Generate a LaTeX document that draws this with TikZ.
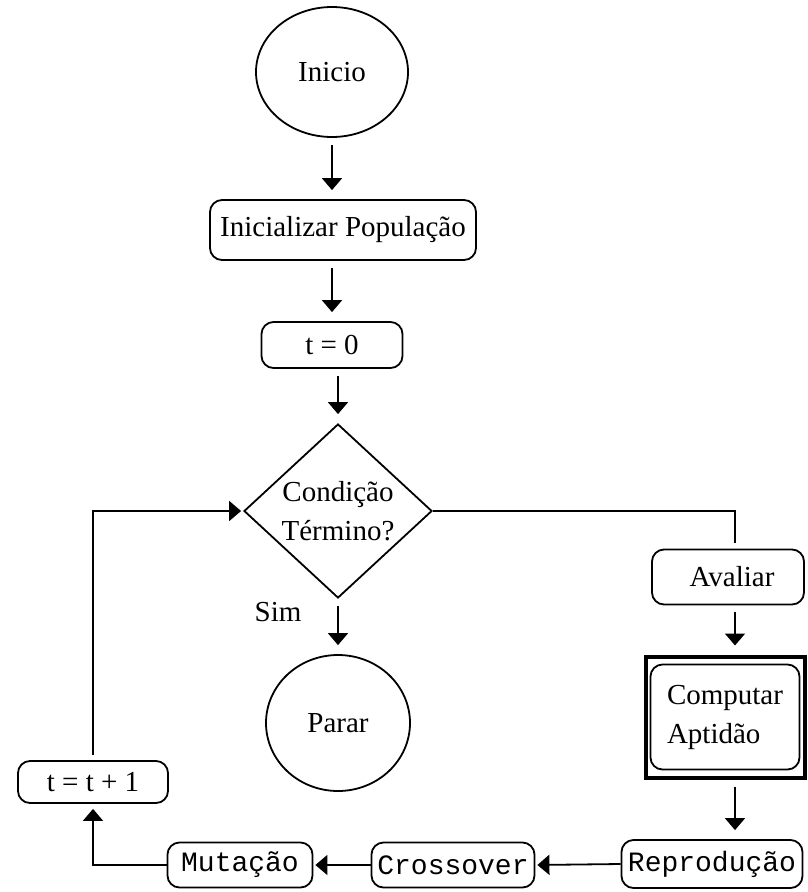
\documentclass[tikz,border=0pt]{standalone}
\usepackage{fontspec}
\setmainfont{Liberation Serif}
\newfontfamily\cmono{Liberation Mono}
\usetikzlibrary{shapes.geometric,arrows.meta,calc}
\begin{document}
\begin{tikzpicture}[x=1pt,y=-1pt,
  lw/.style={line width=1.8pt},
  arr/.style={lw,-{Triangle[width=20pt,length=12pt]},shorten <=7pt,shorten >=9pt},
  txt/.style={font=\fontsize{29}{39}\selectfont},
  mtxt/.style={font=\cmono\fontsize{28}{36}\selectfont},
  rbox/.style={draw,lw,rounded corners=12pt,inner sep=0pt,txt},
  oval/.style={draw,lw,ellipse,inner sep=0pt,txt}]
\useasboundingbox (0,0) rectangle (807,892);
\coordinate (colx) at (735,0);
\node[oval,minimum width=152pt,minimum height=130pt] (start) at (332,72) {Inicio};
\node[rbox,minimum width=266pt,minimum height=60pt] (init) at (343,230) {Inicializar População};
\node[rbox,minimum width=141pt,minimum height=46pt] (t0) at (332,345) {t = 0};
\node[draw,lw,diamond,aspect=1.08,inner sep=0pt,minimum width=188pt,minimum height=174pt,txt,align=center] (cond) at (338,511) {Condição\\Término?};
\node[txt] (sim) at (278,612) {Sim};
\node[oval,minimum width=144pt,minimum height=136pt] (stop) at (338,723) {Parar};
\node[rbox,minimum width=152pt,minimum height=55pt] (aval) at (728,577) {\hspace*{8pt}Avaliar};
\node[draw,line width=4pt,minimum width=159pt,minimum height=121pt,inner sep=0pt] (comp) at (725,717) {};
\node[rbox,minimum width=149pt,minimum height=105pt,align=left] (compin) at (comp.center) {Computar\\Aptidão};
\node[rbox,mtxt,minimum width=181pt,minimum height=48pt] (repr) at (712,864) {Reprodução};
\node[rbox,mtxt,minimum width=163pt,minimum height=45pt] (cross) at (453,865) {Crossover};
\node[rbox,mtxt,minimum width=145pt,minimum height=45pt] (mut) at (240,865) {Mutação};
\node[rbox,minimum width=150pt,minimum height=42pt] (tt) at (93,782) {t = t + 1};
\draw[arr] (start.south) -- (start.south |- init.north);
\draw[arr] (init.south -| start.south) -- (t0.north -| start.south);
\draw[arr] (t0.south -| cond.north) -- (cond.north);
\draw[arr] (cond.south) -- (cond.south |- stop.north);
\draw[lw,shorten >=6pt] (cond.east) -| (aval.north -| colx);
\draw[arr] (aval.south -| colx) -- (comp.north -| colx);
\draw[arr] (comp.south -| colx) -- (repr.north -| colx);
\draw[arr,shorten <=0pt,shorten >=2pt] (repr.west) -- (cross.east);
\draw[arr,shorten <=0pt,shorten >=2pt] (cross.west) -- (mut.west -| mut.east);
\draw[arr,shorten <=0pt,shorten >=5pt] (mut.west) -| (tt.south);
\draw[arr,shorten <=5pt,shorten >=2pt] (tt.north) |- (cond.west);
\end{tikzpicture}
\end{document}
